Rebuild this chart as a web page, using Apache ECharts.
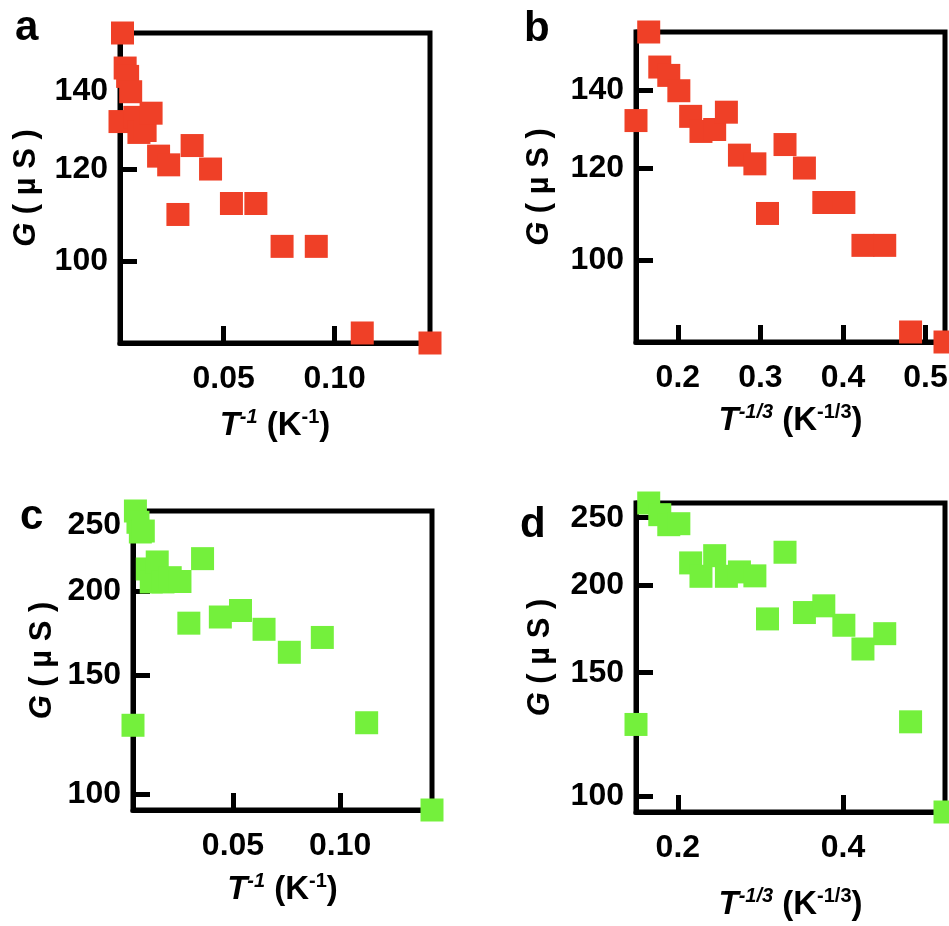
<!DOCTYPE html>
<html>
<head>
<meta charset="utf-8">
<script src="https://cdn.jsdelivr.net/npm/echarts@6/dist/echarts.min.js"></script>
<style>
  html, body { margin: 0; padding: 0; background: #fff; }
  #chart { width: 949px; height: 926px; }
</style>
</head>
<body>
<div id="chart"></div>
<script>
// x values: T^-1 and T^-1/3 of the same temperatures
const invT = [0.00333, 0.00446, 0.00565, 0.00676, 0.00814, 0.0100, 0.01185, 0.01464, 0.01733, 0.0207,
  0.02525, 0.0294, 0.0358, 0.0441, 0.0535, 0.0645, 0.0763, 0.0917, 0.1124, 0.1429]
const invTCbrt = [0.1493, 0.1647, 0.1781, 0.1890, 0.2012, 0.2155, 0.2280, 0.2446, 0.2588, 0.2746,
  0.2933, 0.3086, 0.3298, 0.3533, 0.3768, 0.4011, 0.4242, 0.4506, 0.4819, 0.5236]
// conductance G (uS)
const gRed = [131.8, 157.0, 146.5, 144.1, 139.8, 132.9, 129.0, 129.5, 134.0, 123.1,
  121.0, 109.7, 125.7, 120.0, 112.1, 112.1, 103.0, 103.0, 86.8, 85.1]
const gGreen = [126.5, 262.4, 252.5, 244.3, 245.1, 215.4, 206.1, 220.6, 206.1, 209.1,
  206.4, 179.1, 223.1, 182.9, 187.0, 175.4, 162.2, 170.6, 127.6, 94.8]
// tick labels
const ticksInvT = [0.05, 0.10]
const ticksCbrtB = [0.2, 0.3, 0.4, 0.5]
const ticksCbrtD = [0.2, 0.4]
const ticksRed = [100, 120, 140]
const ticksGreen = [100, 150, 200, 250]

const FONT = 'Liberation Sans, Arial, sans-serif'
const RED = '#EF4027'
const GREEN = '#74F03C'

const grids = [
  { left: 120, top: 33, width: 310, height: 310 },
  { left: 636, top: 32, width: 309, height: 310 },
  { left: 133, top: 511, width: 299, height: 299 },
  { left: 636, top: 503, width: 309, height: 309 }
]

const supStyle = { fontSize: 20, fontWeight: 'bold', fontStyle: 'italic', fontFamily: FONT, color: '#000', verticalAlign: 'top', lineHeight: 20 }
const nameRich = {
  i: { fontSize: 33, fontWeight: 'bold', fontStyle: 'italic', fontFamily: FONT, color: '#000', lineHeight: 38 },
  n: { fontSize: 33, fontWeight: 'bold', fontFamily: FONT, color: '#000', lineHeight: 38 },
  s: supStyle,
  k: Object.assign({}, supStyle, { fontStyle: 'normal' })
}
const xNameInv = '{i|T}{s|-1}{n| (K}{k|-1}{n|)}'
const xNameCbrt = '{i|T}{s|-1/3}{n| (K}{k|-1/3}{n|)}'
const yName = '{i|G}{n| ( µ S )}'

function xAxisOf (idx, ticks, digits, name, gap) {
  return {
    type: 'value',
    gridIndex: idx,
    min: 'dataMin',
    max: 'dataMax',
    splitLine: { show: false },
    axisLine: { show: true, lineStyle: { color: '#000', width: 5 } },
    axisTick: { show: true, inside: true, length: 17, lineStyle: { color: '#000', width: 5 }, customValues: ticks },
    axisLabel: {
      customValues: ticks,
      formatter: v => v.toFixed(digits),
      margin: 20,
      fontSize: 32,
      fontWeight: 'bold',
      fontFamily: FONT,
      color: '#000'
    },
    name: name,
    nameLocation: 'middle',
    nameGap: gap,
    nameTextStyle: { rich: nameRich }
  }
}

function yAxisOf (idx, ticks, gap) {
  return {
    type: 'log',
    gridIndex: idx,
    min: 'dataMin',
    max: 'dataMax',
    splitLine: { show: false },
    minorTick: { show: false },
    axisLine: { show: true, lineStyle: { color: '#000', width: 5 } },
    axisTick: { show: true, inside: true, length: 17, lineStyle: { color: '#000', width: 5 }, customValues: ticks },
    axisLabel: {
      customValues: ticks,
      formatter: v => String(Math.round(v)),
      margin: 12,
      fontSize: 32,
      fontWeight: 'bold',
      fontFamily: FONT,
      color: '#000'
    },
    name: yName,
    nameLocation: 'middle',
    nameGap: gap,
    nameTextStyle: { rich: { i: Object.assign({}, nameRich.i, { fontSize: 31 }), n: Object.assign({}, nameRich.n, { fontSize: 31 }) } }
  }
}

function pairs (xs, ys) {
  return xs.map((x, i) => [x, ys[i]])
}

function scatterOf (idx, xs, ys, color) {
  return {
    type: 'scatter',
    xAxisIndex: idx,
    yAxisIndex: idx,
    symbol: 'rect',
    symbolSize: 23,
    clip: false,
    itemStyle: { color: color, opacity: 1 },
    data: pairs(xs, ys)
  }
}

function letter (txt, x, y) {
  return {
    type: 'text',
    x: x,
    y: y,
    style: { text: txt, font: 'bold 42px ' + FONT, fill: '#000', textVerticalAlign: 'middle' }
  }
}

const dom = document.getElementById('chart')
const myChart = echarts.init(dom, null, { renderer: 'canvas' })

const option = {
  animation: false,
  backgroundColor: '#fff',
  grid: grids.map(g => Object.assign({
    show: true,
    borderColor: '#000',
    borderWidth: 5,
    backgroundColor: 'transparent',
    outerBoundsMode: 'none'
  }, g)),
  xAxis: [
    xAxisOf(0, ticksInvT, 2, xNameInv, 64),
    xAxisOf(1, ticksCbrtB, 1, xNameCbrt, 60),
    xAxisOf(2, ticksInvT, 2, xNameInv, 61),
    xAxisOf(3, ticksCbrtD, 1, xNameCbrt, 74)
  ],
  yAxis: [
    yAxisOf(0, ticksRed, 75),
    yAxisOf(1, ticksRed, 78),
    yAxisOf(2, ticksGreen, 72),
    yAxisOf(3, ticksGreen, 77)
  ],
  series: [
    scatterOf(0, invT, gRed, RED),
    scatterOf(1, invTCbrt, gRed, RED),
    scatterOf(2, invT, gGreen, GREEN),
    scatterOf(3, invTCbrt, gGreen, GREEN)
  ],
  graphic: [
    letter('a', 15, 28),
    letter('b', 524, 29),
    letter('c', 20, 517),
    letter('d', 520, 525)
  ]
}
myChart.setOption(option)
</script>
</body>
</html>
